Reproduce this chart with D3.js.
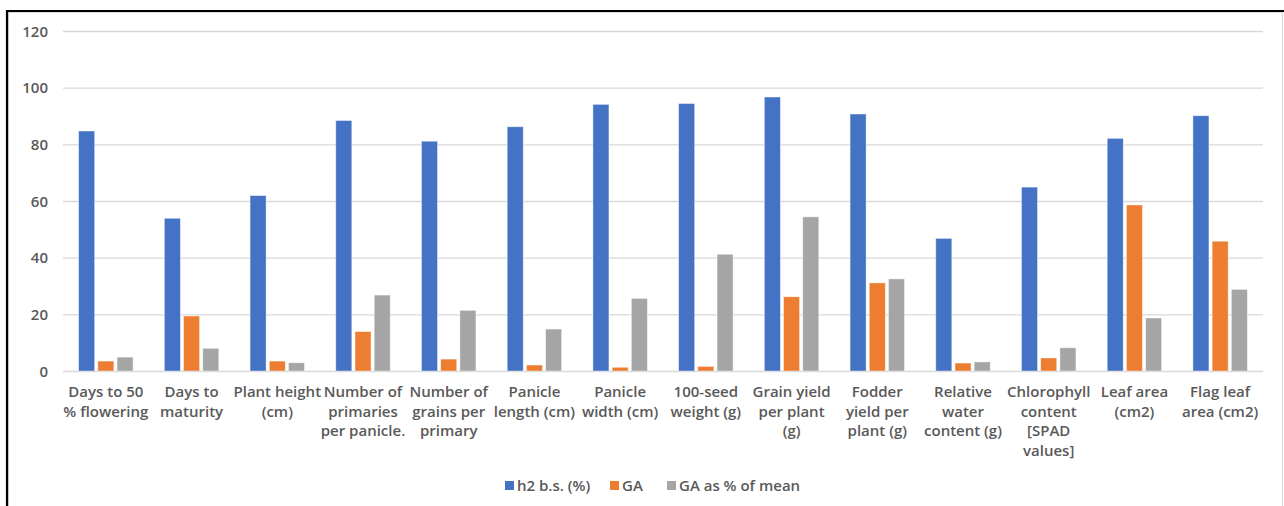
<!DOCTYPE html>
<html>
<head>
<meta charset="utf-8">
<script src="https://cdn.jsdelivr.net/npm/d3@7"></script>
<style>
  html, body { margin: 0; padding: 0; background: #fff; }
  svg { display: block; }
  text { font-family: "Open Sans", "Noto Sans", sans-serif; font-weight: 600; fill: #595959; }
</style>
</head>
<body>
<svg id="chart" width="1284" height="506"></svg>
<script>
// Trait labels, one entry per wrapped line
const categories = [
  ["Days to 50", "% flowering"],
  ["Days to", "maturity"],
  ["Plant height", "(cm)"],
  ["Number of", "primaries", "per panicle."],
  ["Number of", "grains per", "primary"],
  ["Panicle", "length (cm)"],
  ["Panicle", "width (cm)"],
  ["100-seed", "weight (g)"],
  ["Grain yield", "per plant", "(g)"],
  ["Fodder", "yield per", "plant (g)"],
  ["Relative", "water", "content (g)"],
  ["Chlorophyll", "content", "[SPAD", "values]"],
  ["Leaf area", "(cm2)"],
  ["Flag leaf", "area (cm2)"]
];

const seriesNames = ["h2 b.s. (%)", "GA", "GA as % of mean"];
const seriesColors = ["#4472C4", "#ED7D31", "#A5A5A5"];

// Heritability (broad sense), genetic advance, and GA as % of mean
const h2bs      = [84.7, 53.9, 61.9, 88.4, 81.1, 86.2, 94.1, 94.4, 96.7, 90.7, 46.8, 64.9, 82.1, 90.1];
const ga        = [3.5, 19.4, 3.5, 13.9, 4.2, 2.1, 1.3, 1.6, 26.2, 31.1, 2.8, 4.6, 58.6, 45.8];
const gaPercent = [4.9, 8.0, 2.9, 26.8, 21.4, 14.8, 25.6, 41.2, 54.4, 32.5, 3.2, 8.2, 18.7, 28.8];

const yTicks = [0, 20, 40, 60, 80, 100, 120];

const seriesValues = [h2bs, ga, gaPercent];
const keys = categories.map((c, i) => "c" + i);

const svg = d3.select("#chart");

// Outer frame
svg.append("rect")
  .attr("x", 8.5).attr("y", 12.5)
  .attr("width", 1274).attr("height", 500)
  .attr("fill", "#fff").attr("stroke", "#d9d9d9").attr("stroke-width", 1);
svg.append("path")
  .attr("d", "M7,506 V11 H1284")
  .attr("fill", "none").attr("stroke", "#000").attr("stroke-width", 2.2);

const plot = { left: 63, right: 1263, top: 31, bottom: 371 };

const x0 = d3.scaleBand()
  .domain(keys)
  .range([plot.left, plot.right])
  .paddingInner(0.365)
  .paddingOuter(0.1825);

const x1 = d3.scaleBand()
  .domain(d3.range(seriesNames.length))
  .range([0, x0.bandwidth()])
  .paddingInner(0.1667);

const y = d3.scaleLinear()
  .domain([0, 120])
  .range([plot.bottom, plot.top]);

// Horizontal gridlines
const yAxis = d3.axisLeft(y)
  .tickValues(yTicks)
  .tickSize(-(plot.right - plot.left))
  .tickPadding(15)
  .tickFormat(d3.format("d"));

const yG = svg.append("g")
  .attr("transform", `translate(${plot.left},0)`)
  .call(yAxis);
yG.select(".domain").remove();
yG.selectAll(".tick line").attr("stroke", "#d9d9d9").attr("stroke-width", 1.3);
yG.selectAll(".tick text")
  .attr("fill", "#595959")
  .style("font-size", "15px")
  .attr("dy", "0.35em");

// Bars
const groups = svg.append("g")
  .selectAll("g")
  .data(keys)
  .join("g")
  .attr("transform", d => `translate(${x0(d)},0)`);

groups.selectAll("rect")
  .data((d, i) => seriesValues.map((vals, s) => ({ s, v: vals[i] })))
  .join("rect")
  .attr("x", d => x1(d.s))
  .attr("width", x1.bandwidth())
  .attr("y", d => y(d.v))
  .attr("height", d => y(0) - y(d.v))
  .attr("fill", d => seriesColors[d.s])
  .attr("stroke", "#fff")
  .attr("stroke-opacity", 0.5)
  .attr("stroke-width", 0.8);

// Category labels under the axis
const xAxis = d3.axisBottom(x0).tickSize(0).tickFormat("");
const xG = svg.append("g")
  .attr("transform", `translate(0,${plot.bottom})`)
  .call(xAxis);
xG.select(".domain").remove();

const labelG = svg.append("g");
keys.forEach((k, i) => {
  const cx = x0(k) + x0.bandwidth() / 2;
  const t = labelG.append("text")
    .attr("x", cx)
    .attr("y", 397)
    .attr("text-anchor", "middle")
    .style("font-size", "15px");
  categories[i].forEach((line, j) => {
    t.append("tspan")
      .attr("x", cx)
      .attr("dy", j === 0 ? 0 : 19.6)
      .text(line);
  });
});

// Legend
const legendItems = [
  { x: 505, name: seriesNames[0], color: seriesColors[0] },
  { x: 610, name: seriesNames[1], color: seriesColors[1] },
  { x: 667, name: seriesNames[2], color: seriesColors[2] }
];
const lg = svg.append("g");
legendItems.forEach(it => {
  lg.append("rect")
    .attr("x", it.x).attr("y", 481)
    .attr("width", 9).attr("height", 9)
    .attr("fill", it.color);
  lg.append("text")
    .attr("x", it.x + 12).attr("y", 491)
    .style("font-size", "15px")
    .text(it.name);
});
</script>
</body>
</html>
